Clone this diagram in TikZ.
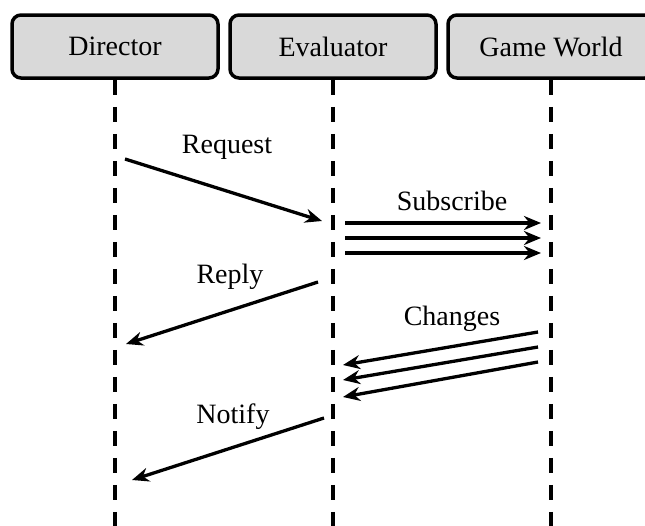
\documentclass[tikz,border=0pt]{standalone}
\usepackage{fontspec}
\setmainfont{Liberation Serif}
\usepackage{tikz}
\usetikzlibrary{positioning}
\usetikzlibrary{arrows.meta}
\tikzset{actor node/.style={rectangle,rounded corners=9pt,draw,line width=3.5pt,fill=gray!30,minimum width=206pt,minimum height=63pt,inner sep=0pt,font=\fontsize{28}{32}\selectfont},
  life line/.style={line width=3.5pt,dash pattern=on 15pt off 12pt},
  msg/.style={line width=3.3pt,-{Stealth[length=17pt,width=14pt]}},
  msg label/.style={font=\fontsize{28}{32}\selectfont},}

\begin{document}
\begin{tikzpicture}[x=1pt, y=-1pt]
    \useasboundingbox (0,0) rectangle (645,525);
    \clip (0,0) rectangle (645,525);

    % lifeline heads
    \node[actor node] (director) at (115,46.5) {Director};
    \node[actor node] (evaluator) [right = 8.5pt of director] {Evaluator};
    \node[actor node] (world) [right = 8.5pt of evaluator] {Game World};

    % lifelines
    \draw[life line] (director.south) -- ++(0,460);
    \draw[life line] (evaluator.south) -- ++(0,460);
    \draw[life line] (world.south) -- ++(0,460);

    % message ends
    \coordinate (req a) at (125,159);
    \coordinate (req b) at (322,221);
    \coordinate (rep a) at (318,282);
    \coordinate (rep b) at (126,344);
    \coordinate (not a) at (324,418);
    \coordinate (not b) at (132,480);

    % messages
    \draw[msg] (req a) -- (req b);
    \node[msg label] (request) at (227,147) {Request};

    \foreach \i/\y in {1/223,2/238,3/253} {
        \coordinate (sub a\i) at (345,\y);
        \coordinate (sub b\i) at (541,\y);
        \draw[msg] (sub a\i) -- (sub b\i);
    }
    \node[msg label] (subscribe) at (452,201) {Subscribe};

    \draw[msg] (rep a) -- (rep b);
    \node[msg label] (reply) at (230,277) {Reply};

    \foreach \i/\y/\z in {1/332/365,2/347/380,3/362/397} {
        \coordinate (chg a\i) at (538,\y);
        \coordinate (chg b\i) at (343,\z);
        \draw[msg] (chg a\i) -- (chg b\i);
    }
    \node[msg label] (changes) at (452,319) {Changes};

    \draw[msg] (not a) -- (not b);
    \node[msg label] (notify) at (233,417) {Notify};
\end{tikzpicture}
\end{document}
